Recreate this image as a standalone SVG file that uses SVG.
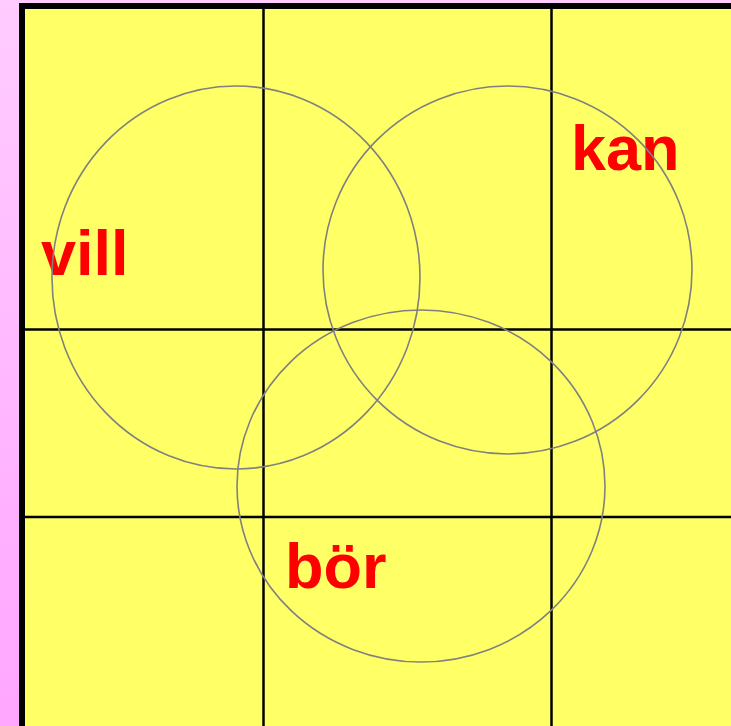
<svg xmlns="http://www.w3.org/2000/svg" width="731" height="726" viewBox="0 0 731 726">
<defs>
<linearGradient id="bg" x1="0" y1="0" x2="0" y2="1">
<stop offset="0" stop-color="#FFCCFF"/>
<stop offset="1" stop-color="#FFA6FF"/>
</linearGradient>
<style>
.grid{stroke:#000;stroke-width:2.5;fill:none}
.c{fill:none;stroke:#808080;stroke-width:1.6}
.t{font-family:"Liberation Sans",Arial,sans-serif;font-weight:bold;font-size:63px;fill:#FF0000}
</style>
</defs>
<rect x="0" y="0" width="731" height="726" fill="url(#bg)"/>
<rect x="22" y="6" width="720" height="730" fill="#FFFF66" stroke="#000" stroke-width="6"/>
<g id="grid">
<line class="grid" x1="263.5" y1="8" x2="263.5" y2="726"/>
<line class="grid" x1="551.5" y1="8" x2="551.5" y2="726"/>
<line class="grid" x1="25" y1="329.5" x2="731" y2="329.5"/>
<line class="grid" x1="25" y1="517" x2="731" y2="517"/>
</g>
<g id="labels">
<text id="vill" class="t" x="41" y="275">vill</text>
<text id="kan" class="t" x="571" y="170">kan</text>
<text id="bor" class="t" x="285" y="588">bör</text>
</g>
<g id="circles">
<ellipse id="circle-vill" class="c" cx="236" cy="277.5" rx="184" ry="191.5" stroke="#666"/>
<ellipse id="circle-kan" class="c" cx="507.5" cy="270" rx="184.5" ry="184"/>
<ellipse id="circle-bor" class="c" cx="421" cy="486" rx="184" ry="176"/>
</g>
</svg>
